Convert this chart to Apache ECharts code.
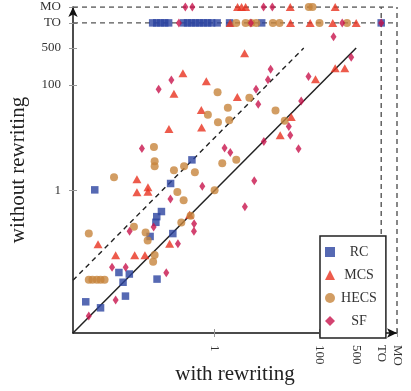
<!DOCTYPE html>
<html><head><meta charset="utf-8">
<script src="https://cdn.jsdelivr.net/npm/echarts@6/dist/echarts.min.js"></script>
<style>html,body{margin:0;padding:0;background:#fff}#c{width:411px;height:391px}</style>
</head><body><div id="c"></div>
<script>
// Special values used for timeout / memory-out rows
const TO = 1500, MO = 3000, AXMIN = 0.002;
const tickValues = [1, 100, 500, TO, MO];
const tickLabels = ['1', '100', '500', 'TO', 'MO'];
const seriesNames = ['RC', 'MCS', 'HECS', 'SF'];

const rcData = [
  [0.37,3.81],[0.145,1.36],[0.0052,1.03],[0.097,0.40],[0.079,0.32],[0.076,0.25],[0.16,0.153],[0.059,0.135],
  [0.015,0.028],[0.0237,0.0262],[0.080,0.021],[0.018,0.0183],[0.020,0.0100],[0.0035,0.0078],[0.0067,0.0060],
  [0.066,TO],[0.079,TO],[0.094,TO],[0.112,TO],[0.133,TO],[0.257,TO],[0.306,TO],[0.365,TO],[0.435,TO],
  [0.518,TO],[0.617,TO],[0.736,TO],[0.877,TO],[1.12,TO],[1.93,TO],[7.9,TO],[TO,TO]
];
const mcsData = [
  [0.249,166],[0.695,118],[0.168,68.4],[0.558,33.6],[0.565,15.6],[0.135,14.7],[0.0331,1.63],[0.0537,1.16],
  [0.0331,0.925],[0.0537,0.944],[0.334,0.347],[0.139,0.098],[0.0060,0.096],[0.013,0.0595],[0.030,0.0595],
  [0.047,0.0595],[3.73,398],[2.71,59.1],[28.9,24.8],[17.8,11.2],[83.9,128],[199,207],[303,207],
  [1.99,TO],[28,TO],[66.5,TO],[179,TO],[500,TO],
  [2.74,MO],[3.27,MO],[3.9,MO],[27.7,MO],[199,MO]
];
const hecsData = [
  [0.0698,6.71],[0.072,3.57],[0.072,2.87],[0.168,2.41],[0.262,2.89],[0.421,2.23],[1.40,3.30],[0.0121,1.79],
  [0.195,0.937],[1.0,1.01],[0.257,0.658],[1.14,72.8],[0.745,27.4],[1.79,37.2],[1.16,19.7],[1.90,21.5],
  [4.60,57.5],[14.5,32.7],[21.7,21.1],[2.59,3.81],[0.349,0.332],[0.232,0.247],[0.029,0.206],[0.0040,0.154],
  [0.0484,0.160],[0.053,0.113],[0.072,0.060],[0.0674,0.0448],[0.0040,0.0204],[0.0047,0.0204],[0.0057,0.0204],
  [0.0067,0.0204],[0.0080,0.0204],
  [2.59,TO],[3.9,TO],[5.0,TO],[6.23,TO],[12.9,TO],[17.3,TO],[100,TO],[334,TO],
  [62.5,MO],[73.5,MO]
];
const sfData = [
  [0.150,124],[0.0858,83],[0.0412,6.23],[1.55,6.37],[1.99,5.28],[0.583,1.21],[0.144,0.69],[0.0689,0.204],
  [0.024,0.170],[0.407,0.234],[0.404,0.169],[0.2,0.098],[0.0111,0.0352],[0.0202,0.0352],[0.120,0.0277],
  [0.013,0.0084],[0.0040,0.0042],[11.7,198],[10.4,126],[6.17,83],[6.79,43.1],[8.69,8.53],[26,16.4],
  [27.7,11.2],[39.8,6.2],[44.8,49.8],[61.7,144],[402,334],[185,820],[5.70,1.53],[3.78,0.492],
  [0.209,TO],[4.92,TO],[271,TO],[TO,TO],
  [0.277,MO],[0.376,MO],[8.58,MO],[12.6,MO]
];
// reference lines: y = x and y = 10x, plus TO / MO limits
const diagLine = [[AXMIN, AXMIN], [500, 500]];
const tenXLine = [[AXMIN, AXMIN * 10], [50, 500]];
const toH = [[AXMIN, TO], [MO, TO]];
const moH = [[AXMIN, MO], [MO, MO]];
const toV = [[TO, AXMIN], [TO, MO]];
const moV = [[MO, AXMIN], [MO, MO]];

const FONT = 'Liberation Serif';
function lab(v) {
  let best = 0, bd = 1e9;
  tickValues.forEach((t, i) => { const d = Math.abs(Math.log10(v) - Math.log10(t)); if (d < bd) { bd = d; best = i; } });
  return tickLabels[best];
}
function mkAxis(isX, main) {
  return {
    type: 'log', logBase: 10, min: AXMIN, max: MO,
    position: isX ? 'bottom' : 'left',
    name: main ? (isX ? 'with rewriting' : 'without rewriting') : '',
    nameLocation: 'middle',
    nameMoveOverlap: false,
    nameGap: isX ? 31 : 44,
    nameTextStyle: { fontFamily: FONT, fontSize: 21, color: '#222' },
    axisLine: main ? { show: true, onZero: false, symbol: ['none', 'arrow'], symbolSize: [7, 10],
      lineStyle: { color: '#111', width: 1.5 } } : { show: false, onZero: false },
    axisTick: { show: true, inside: !main, length: 4, customValues: tickValues,
      lineStyle: { color: '#999', width: 1 } },
    axisLabel: { show: main, customValues: tickValues, formatter: lab, margin: 12,
      rotate: isX ? -90 : 0, fontFamily: FONT, fontSize: 13, color: '#333' },
    splitLine: { show: false }, minorTick: { show: false }, minorSplitLine: { show: false }
  };
}
function lineSeries(data, dashed, color) {
  return { type: 'line', data: data, symbol: 'none', silent: true, z: 1,
    lineStyle: { color: color, width: dashed ? 1.4 : 1.5, type: dashed ? [5, 4] : 'solid' } };
}
const colors = { RC: '#2c44a0', MCS: '#e8321f', HECS: '#c7843c', SF: '#c8144c' };
const chart = echarts.init(document.getElementById('c'), null, { renderer: 'canvas' });
chart.setOption({
  animation: false,
  backgroundColor: '#fff',
  grid: { left: 73, right: 14, top: 7, bottom: 58, containLabel: false, outerBoundsMode: 'none' },
  xAxis: [mkAxis(true, true), mkAxis(true, false)],
  yAxis: [mkAxis(false, true), mkAxis(false, false)],
  legend: {
    orient: 'vertical', left: 320, top: 236,
    data: [{ name: 'RC', icon: 'rect' }, { name: 'MCS', icon: 'triangle' }, { name: 'HECS', icon: 'circle' }, { name: 'SF', icon: 'diamond' }],
    itemWidth: 10, itemHeight: 10, itemGap: 9,
    padding: [9, 9, 10, 5],
    borderColor: '#222', borderWidth: 1.5, backgroundColor: '#fff',
    formatter: '{c|{name}}',
    textStyle: { fontFamily: FONT, fontSize: 14, color: '#333', rich: { c: { width: 38, align: 'center', fontFamily: FONT, fontSize: 14 } } }
  },
  series: [
    lineSeries(diagLine, false, '#222'),
    lineSeries(tenXLine, true, '#222'),
    lineSeries(toH, true, '#555'),
    lineSeries(moH, true, '#555'),
    lineSeries(toV, true, '#555'),
    lineSeries(moV, true, '#555'),
    { name: 'RC', type: 'scatter', data: rcData, symbol: 'rect', symbolSize: 7.5, itemStyle: { color: colors.RC }, z: 3 },
    { name: 'MCS', type: 'scatter', data: mcsData, symbol: 'triangle', symbolSize: [9, 8], itemStyle: { color: colors.MCS }, z: 3 },
    { name: 'HECS', type: 'scatter', data: hecsData, symbol: 'circle', symbolSize: 8, itemStyle: { color: colors.HECS }, z: 3 },
    { name: 'SF', type: 'scatter', data: sfData, symbol: 'diamond', symbolSize: [6, 9], itemStyle: { color: colors.SF }, z: 3 }
  ]
});
</script>
</body></html>
